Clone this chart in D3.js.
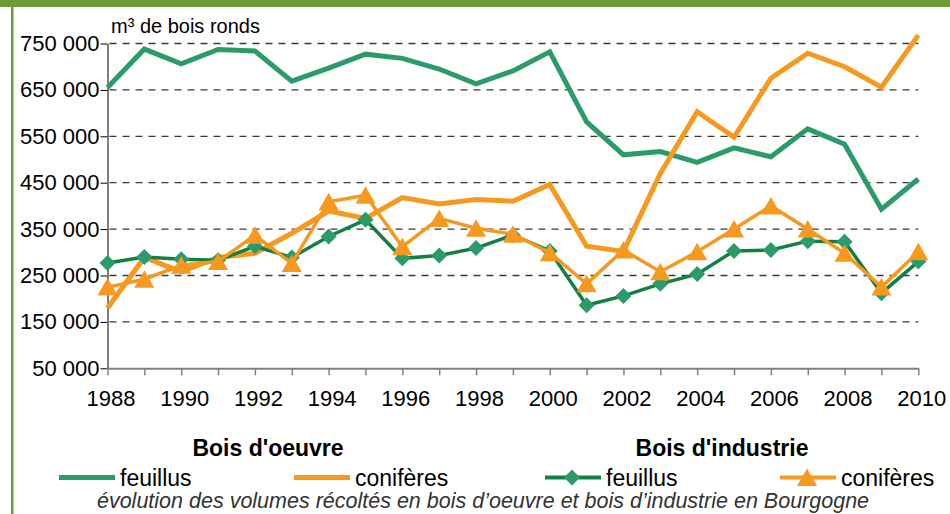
<!DOCTYPE html>
<html>
<head>
<meta charset="utf-8">
<script src="https://cdn.jsdelivr.net/npm/d3@7"></script>
<style>
  html, body { margin: 0; padding: 0; background: #fff; }
  svg { display: block; font-family: "Liberation Sans", Arial, sans-serif; }
</style>
</head>
<body>
<svg id="chart" width="950" height="514"></svg>
<script>
// Volumes récoltés en Bourgogne (m3 de bois ronds), 1988-2010
const years = [1988, 1989, 1990, 1991, 1992, 1993, 1994, 1995, 1996, 1997, 1998, 1999,
               2000, 2001, 2002, 2003, 2004, 2005, 2006, 2007, 2008, 2009, 2010];

const oeuvreFeuillus = [655000, 738000, 706000, 737000, 734000, 669000, 697000, 727000, 718000, 695000, 663000, 691000,
                        732000, 581000, 510000, 517000, 494000, 525000, 506000, 566000, 533000, 393000, 458000];
const oeuvreConiferes = [180000, 289000, 258000, 289000, 298000, 341000, 389000, 373000, 418000, 404000, 414000, 410000,
                         446000, 313000, 302000, 470000, 603000, 548000, 675000, 729000, 700000, 656000, 768000];
const industrieFeuillus = [277000, 290000, 285000, 283000, 313000, 289000, 334000, 370000, 287000, 293000, 309000, 337000,
                           303000, 186000, 206000, 232000, 253000, 303000, 305000, 324000, 323000, 212000, 280000];
const industrieConiferes = [225000, 242000, 272000, 280000, 337000, 276000, 409000, 423000, 312000, 373000, 352000, 339000,
                            299000, 232000, 305000, 258000, 301000, 350000, 400000, 350000, 298000, 225000, 301000];

const yTicks = [50000, 150000, 250000, 350000, 450000, 550000, 650000, 750000];
const groupTitles = ["Bois d'oeuvre", "Bois d'industrie"];
const seriesNames = ["feuillus", "conifères", "feuillus", "conifères"];
const unitLabel = "m³ de bois ronds";
const caption = "évolution des volumes récoltés en bois d’oeuvre et bois d’industrie en Bourgogne";

(function() {
  const svg = d3.select('#chart');
  const GREEN = '#2b9b6b', DARK_GREEN = '#118040', ORANGE = '#f7981f', FRAME = '#6f9c35';

  // frame: green bar on top, thin green rule on the left
  svg.append('rect').attr('x', 0).attr('y', 0).attr('width', 950).attr('height', 7).attr('fill', FRAME);
  svg.append('rect').attr('x', 11).attr('y', 0).attr('width', 2.5).attr('height', 514).attr('fill', FRAME);

  const x = d3.scaleLinear().domain([1988, 2010]).range([107.5, 918.3]);
  const y = d3.scaleLinear().domain([50000, 750000]).range([368.3, 43.5]);

  const fr = d3.formatLocale({ decimal: ',', thousands: ' ', grouping: [3], currency: ['', ' €'] });
  const fmt = fr.format(',d');

  // dashed gridlines
  svg.append('g')
    .selectAll('line')
    .data(yTicks.filter(d => d > 50000))
    .join('line')
    .attr('x1', x(1988) + 2).attr('x2', x(2010))
    .attr('y1', d => y(d)).attr('y2', d => y(d))
    .attr('stroke', '#3a3a3a').attr('stroke-width', 1.3)
    .attr('stroke-dasharray', '7,6');

  // y axis
  const yAxis = svg.append('g')
    .attr('transform', `translate(${x(1988)},0)`)
    .call(d3.axisLeft(y).tickValues(yTicks).tickFormat(fmt).tickSize(7).tickSizeOuter(0).tickPadding(1));
  yAxis.select('.domain').attr('stroke', '#000');
  yAxis.selectAll('.tick line').attr('stroke', '#000');
  yAxis.selectAll('text').attr('font-size', 22).attr('fill', '#000')
    .attr('font-family', '"Liberation Sans", Arial, sans-serif');

  // x axis
  const xAxis = svg.append('g')
    .attr('transform', `translate(0,${y(50000)})`)
    .call(d3.axisBottom(x).tickValues(years).tickFormat(d => d % 2 === 0 ? d : '')
      .tickSize(7).tickSizeOuter(0).tickPadding(15));
  xAxis.select('.domain').attr('stroke', '#808080').attr('stroke-width', 2);
  xAxis.selectAll('.tick line').attr('stroke', '#808080').attr('stroke-width', 1.5);
  xAxis.selectAll('text').attr('font-size', 22).attr('fill', '#000').attr('dx', 3)
    .attr('font-family', '"Liberation Sans", Arial, sans-serif');

  // unit label
  svg.append('text').text(unitLabel)
    .attr('x', 111).attr('y', 33).attr('font-size', 20).attr('fill', '#000');

  const line = d3.line().x((d, i) => x(years[i])).y(d => y(d));
  const diamond = 'M0,-8L8,0L0,8L-8,0Z';
  const triangle = 'M0,-9L10,8.5L-10,8.5Z';

  const series = [
    { values: oeuvreFeuillus, color: GREEN, width: 5 },
    { values: oeuvreConiferes, color: ORANGE, width: 5 },
    { values: industrieFeuillus, color: DARK_GREEN, width: 3.5, marker: diamond, markerColor: GREEN },
    { values: industrieConiferes, color: ORANGE, width: 3.5, marker: triangle, markerColor: ORANGE }
  ];

  series.forEach(s => {
    svg.append('path')
      .datum(s.values)
      .attr('d', line)
      .attr('fill', 'none')
      .attr('stroke', s.color)
      .attr('stroke-width', s.width)
      .attr('stroke-linejoin', 'miter');
    if (s.marker) {
      svg.append('g').selectAll('path')
        .data(s.values)
        .join('path')
        .attr('d', s.marker)
        .attr('transform', (d, i) => `translate(${x(years[i])},${y(d)})`)
        .attr('fill', s.markerColor);
    }
  });

  // legend
  const groupCenters = [268, 722];
  groupTitles.forEach((t, i) => {
    svg.append('text').text(t)
      .attr('x', groupCenters[i]).attr('y', 456)
      .attr('text-anchor', 'middle').attr('font-weight', 'bold').attr('font-size', 23);
  });

  const legendX = [59, 294, 545, 780];
  const ly = 477.5;
  series.forEach((s, i) => {
    const g = svg.append('g').attr('transform', `translate(${legendX[i]},0)`);
    g.append('line').attr('x1', 0).attr('x2', 56).attr('y1', ly).attr('y2', ly)
      .attr('stroke', s.color).attr('stroke-width', s.marker ? 4 : 5);
    if (s.marker) {
      g.append('path').attr('d', s.marker)
        .attr('transform', `translate(27,${ly})`).attr('fill', s.markerColor);
    }
    g.append('text').text(seriesNames[i])
      .attr('x', 61).attr('y', 486).attr('font-size', 23).attr('fill', '#000');
  });

  svg.append('text').text(caption)
    .attr('x', 483).attr('y', 507.5)
    .attr('text-anchor', 'middle').attr('font-style', 'italic')
    .attr('font-size', 21.5).attr('fill', '#333');
})();
</script>
</body>
</html>
